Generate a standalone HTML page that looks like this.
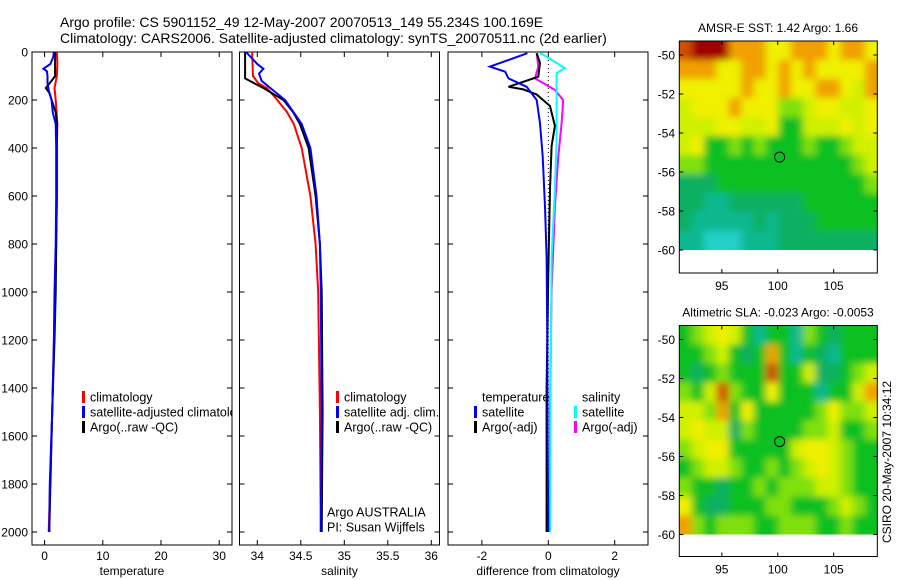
<!DOCTYPE html>
<html><head><meta charset="utf-8"><style>
html,body{margin:0;padding:0;background:#fff;}
svg{display:block;font-family:"Liberation Sans",sans-serif;}
</style></head><body>
<svg id="fig" width="900" height="580" viewBox="0 0 900 580" xmlns="http://www.w3.org/2000/svg">
<text x="60" y="27" font-size="14">Argo profile: CS 5901152_49 12-May-2007 20070513_149 55.234S 100.169E</text>
<text x="60" y="43" font-size="14">Climatology: CARS2006. Satellite-adjusted climatology: synTS_20070511.nc (2d earlier)</text>
<defs><clipPath id="clip1"><rect x="32" y="52" width="200" height="493"/></clipPath>
<clipPath id="clip2"><rect x="239.5" y="52" width="200" height="493"/></clipPath>
<clipPath id="clip3"><rect x="448" y="52" width="200" height="493"/></clipPath>
<filter id="blur" x="-0.1" y="-0.1" width="1.2" height="1.2"><feGaussianBlur stdDeviation="4 3.5"/></filter>
</defs>
<g id="layer"></g>
</svg>
<script>
// ---------- profile data ----------
const depthTclim = [0,50,100,150,200,300,400,600,800,1000,1500,2000];
const tempClim   = [2.1,2.2,2.1,1.7,1.9,2.2,2.1,2.1,2.0,1.8,1.3,0.7];
const depthTargo = [0,20,50,100,120,150,170,200,250,300,400,600,800,1000,1200,1500,1800,2000];
const tempArgo   = [1.8,1.8,1.8,1.8,1.2,0.2,0.8,1.2,1.9,2.1,2.1,2.1,2.0,1.9,1.7,1.3,1.0,0.8];
const depthTsat  = [0,20,50,70,80,100,130,160,200,250,300,400,600,800,1000,1200,1500,1800,2000];
const tempSat    = [1.6,1.5,1.0,-0.2,0.4,0.5,0.5,0.7,1.2,1.4,1.9,2.0,2.0,1.9,1.7,1.6,1.3,0.9,0.8];

const depthSclim = [0,100,130,150,200,250,300,400,600,800,1000,1500,2000];
const salClim    = [33.94,33.95,34.01,34.11,34.23,34.34,34.42,34.51,34.61,34.67,34.70,34.72,34.73];
const depthSsat  = [0,50,70,90,120,150,200,300,400,600,800,1000,1500,2000];
const salSat     = [33.87,34.0,34.07,34.02,34.05,34.15,34.32,34.51,34.61,34.68,34.72,34.73,34.74,34.73];
const depthSargo = [0,50,110,150,200,250,300,400,600,800,1000,1500,2000];
const salArgo    = [33.86,33.86,33.86,34.07,34.3,34.41,34.49,34.59,34.67,34.72,34.74,34.75,34.74];

const depthDtS = [5,61,82,110,145,200,297,436,644,853,1200,1600,2000];
const diffTsat = [-0.63,-1.76,-1.3,-1.2,-0.65,-0.35,-0.25,-0.17,-0.1,-0.05,-0.03,-0.02,0.0];
const depthDtA = [5,46,103,145,156,177,225,308,392,572,920,1400,2000];
const diffTargo= [-0.35,-0.25,-0.3,-1.2,-0.75,-0.35,0.05,0.2,0.1,0.05,0.0,-0.05,-0.05];
const depthDsS = [5,19,67,88,186,367,572,853,1400,2000];
const diffSsat = [-0.25,-0.05,0.5,0.25,0.25,0.25,0.2,0.1,0.07,0.05];
const depthDsA = [5,61,110,158,200,297,436,644,992,1500,2000];
const diffSargo= [-0.35,-0.3,-0.4,0.2,0.45,0.4,0.3,0.2,0.1,0.05,0.05];

const depthTicks = [0,200,400,600,800,1000,1200,1400,1600,1800,2000];
const tempTicks = [0,10,20,30];
const salTicks = [34,34.5,35,35.5,36];
const diffTicks = [-2,0,2];

// ---------- map data (colour index 0-9, rows N->S, cols W->E) ----------
const sstRows = [
"8999777667776776","7776677676766667","6666676676677657","5666766644566556",
"5556655633555656","5633434333433455","4433333333333345","2223333333333334",
"2211222222333333","2111112122233333","1100011122222222"];
const slaRows = [
"3456531331432333","3345323731321333","3234333833522345","4358433633313357",
"5547363333346445","5655243333445334","4566333335665433","3455433434565433",
"4332334344455433","6322333443334543","7434443344433433"];
const palette = ["#20d0c8","#10b890","#10b060","#10c020","#80e010","#d0f000","#f0f000","#f0a000","#d05000","#a00000"];
const mapLonTicks = [95,100,105];
const mapLatTicks = [-50,-52,-54,-56,-58,-60];
const floatLon = 100.169, floatLat = -55.234;

const NS="http://www.w3.org/2000/svg";
const layer=document.getElementById('layer');
const defs=document.querySelector('defs');
function mk(tag,attrs,parent){const e=document.createElementNS(NS,tag);for(const k in attrs)e.setAttribute(k,attrs[k]);(parent||layer).appendChild(e);return e;}

const Y0=52, YS=0.24;
function yD(d){return Y0+YS*d;}
const panels=[
 {x0:32,x1:232,f:v=>44.6+5.82*v,ticks:tempTicks,label:"temperature",clip:"clip1",name:"temperature"},
 {x0:239.5,x1:439.5,f:v=>257.3+87*(v-34),ticks:salTicks,label:"salinity",clip:"clip2",name:"salinity"},
 {x0:448,x1:648,f:v=>548.3+33.2*v,ticks:diffTicks,label:"difference from climatology",clip:"clip3",name:"difference"}
];
const YB=545;
panels.forEach((p,i)=>{
  const g=mk('g',{});
  
  
  const r=mk('rect',{x:p.x0,y:Y0,width:p.x1-p.x0,height:YB-Y0,fill:'none',stroke:'#000','stroke-width':1},g);
  
  
  depthTicks.forEach(d=>{
    const y=yD(d);
    mk('line',{x1:p.x0,x2:p.x0+5,y1:y,y2:y,stroke:'#000'},g);
    mk('line',{x1:p.x1-5,x2:p.x1,y1:y,y2:y,stroke:'#000'},g);
    if(i===0){const t=mk('text',{x:28,y:y+4.5,'font-size':12,'text-anchor':'end'},g);t.textContent=d;
      
      }
  });
  p.ticks.forEach(v=>{
    const x=p.f(v);
    mk('line',{x1:x,x2:x,y1:Y0,y2:Y0+5,stroke:'#000'},g);
    mk('line',{x1:x,x2:x,y1:YB-5,y2:YB,stroke:'#000'},g);
    const t=mk('text',{x:x,y:560,'font-size':12,'text-anchor':'middle'},g);t.textContent=v;
    
    
  });
  const xl=mk('text',{x:(p.x0+p.x1)/2,y:575,'font-size':12,'text-anchor':'middle'},g);xl.textContent=p.label;
  
  
});
function line(pi,depths,vals,color,name,w){
  const p=panels[pi];
  const pts=depths.map((d,k)=>p.f(vals[k]).toFixed(1)+','+yD(d).toFixed(1)).join(' ');
  const e=mk('polyline',{points:pts,fill:'none',stroke:color,'stroke-width':w||2,'clip-path':'url(#'+p.clip+')'});
  
  
}
line(0,depthTclim,tempClim,'#ff0000','temp-climatology-line');
line(0,depthTargo,tempArgo,'#000000','temp-argo-line');
line(0,depthTsat,tempSat,'#0000ff','temp-satellite-line');
line(1,depthSclim,salClim,'#ff0000','sal-climatology-line');
line(1,depthSargo,salArgo,'#000000','sal-argo-line');
line(1,depthSsat,salSat,'#0000ff','sal-satellite-line');
const zl=mk('line',{x1:panels[2].f(0),x2:panels[2].f(0),y1:Y0,y2:yD(2000),stroke:'#000','stroke-dasharray':'1,3'});


line(2,depthDsA,diffSargo,'#ff00ff','diff-sal-argo-line');
line(2,depthDsS,diffSsat,'#00ffff','diff-sal-satellite-line');
line(2,depthDtA,diffTargo,'#000000','diff-temp-argo-line');
line(2,depthDtS,diffTsat,'#0000ff','diff-temp-satellite-line');

function leg(x,y,color,text,name,clip){
  const g=mk('g',clip?{'clip-path':'url(#'+clip+')'}:{});
  
  
  if(color) mk('rect',{x:x-8,y:y-6,width:3,height:12,fill:color},g);
  const t=mk('text',{x:x,y:y+4.5,'font-size':12.5},g);t.textContent=text;
}
leg(90,397,'#ff0000','climatology','legend-entry-climatology','clip1');
leg(90,412,'#0000ff','satellite-adjusted climatology','legend-entry-satellite-adjusted','clip1');
leg(90,427,'#000000','Argo(..raw -QC)','legend-entry-argo','clip1');
leg(344,397,'#ff0000','climatology','legend-entry-sal-climatology');
leg(344,412,'#0000ff','satellite adj. clim.','legend-entry-sal-satellite');
leg(344,427,'#000000','Argo(..raw -QC)','legend-entry-sal-argo');
leg(482,397,null,'temperature','legend-header-temperature');
leg(482,412,'#0000ff','satellite','legend-entry-diff-temp-satellite');
leg(482,427,'#000000','Argo(-adj)','legend-entry-diff-temp-argo');
leg(582,397,null,'salinity','legend-header-salinity');
leg(582,412,'#00ffff','satellite','legend-entry-diff-sal-satellite');
leg(582,427,'#ff00ff','Argo(-adj)','legend-entry-diff-sal-argo');
leg(327,512,null,'Argo AUSTRALIA','credit-argo-australia');
leg(327,527,null,'PI: Susan Wijffels','credit-pi');

function drawMap(rows,top,bottom,title,name){
  const x0=679.3,x1=877.3,lonL=91.2,lonR=108.9;
  const lat50y=top+14;
  const fx=lon=>x0+(lon-lonL)*(x1-x0)/(lonR-lonL);
  const fy=lat=>lat50y+(-50-lat)*19.5;
  const latTop=-50+(lat50y-top)/19.5;
  const cid=name+'-clip';
  const cp=mk('clipPath',{id:cid},defs);
  mk('rect',{x:x0,y:top,width:x1-x0,height:fy(-60)-top},cp);
  const g=mk('g',{});
  
  
  const outer=mk('g',{'clip-path':'url(#'+cid+')'},g);
  const cells=mk('g',{filter:'url(#blur)'},outer);
  
  
  const nr=rows.length,nc=rows[0].length;
  const cw=(lonR-lonL)/nc, ch=(latTop-(-60))/nr;
  for(let ri=-1;ri<=nr;ri++){
    const rr=Math.min(nr-1,Math.max(0,ri));
    for(let ci=-1;ci<=nc;ci++){
      const cc=Math.min(nc-1,Math.max(0,ci));
      const v=+rows[rr][cc];
      const la=latTop-ri*ch, lo=lonL+ci*cw;
      const c=mk('rect',{x:fx(lo).toFixed(2),y:fy(la).toFixed(2),width:(fx(lo+cw)-fx(lo)+0.6).toFixed(2),height:(fy(la-ch)-fy(la)+0.6).toFixed(2),fill:palette[v]},cells);
      
      
    }
  }
  mk('rect',{x:x0,y:top,width:x1-x0,height:bottom-top,fill:'none',stroke:'#000'},g);
  mapLatTicks.forEach(l=>{const y=fy(l);
    mk('line',{x1:x0,x2:x0+4,y1:y,y2:y,stroke:'#000'},g);mk('line',{x1:x1-4,x2:x1,y1:y,y2:y,stroke:'#000'},g);
    const t=mk('text',{x:675,y:y+4.5,'font-size':12,'text-anchor':'end'},g);t.textContent=l;
    
    });
  mapLonTicks.forEach(l=>{const x=fx(l);
    mk('line',{x1:x,x2:x,y1:top,y2:top+4,stroke:'#000'},g);mk('line',{x1:x,x2:x,y1:bottom-4,y2:bottom,stroke:'#000'},g);
    const t=mk('text',{x:x,y:bottom+17,'font-size':12,'text-anchor':'middle'},g);t.textContent=l;
    
    });
  const c=mk('circle',{cx:fx(floatLon),cy:fy(floatLat),r:5,fill:'none',stroke:'#000'},g);
  
  
  const t=mk('text',{x:778,y:top-9,'font-size':12,'text-anchor':'middle'},g);t.textContent=title;
  
  
}
drawMap(sstRows,41,273,'AMSR-E SST: 1.42 Argo: 1.66','sst-map');
drawMap(slaRows,325.5,556.5,'Altimetric SLA: -0.023 Argo: -0.0053','sla-map');
const st=mk('text',{x:0,y:0,'font-size':12,'text-anchor':'middle',transform:'translate(891,462) rotate(-90)'});
st.textContent='CSIRO 20-May-2007 10:34:12';


</script>
</body></html>
